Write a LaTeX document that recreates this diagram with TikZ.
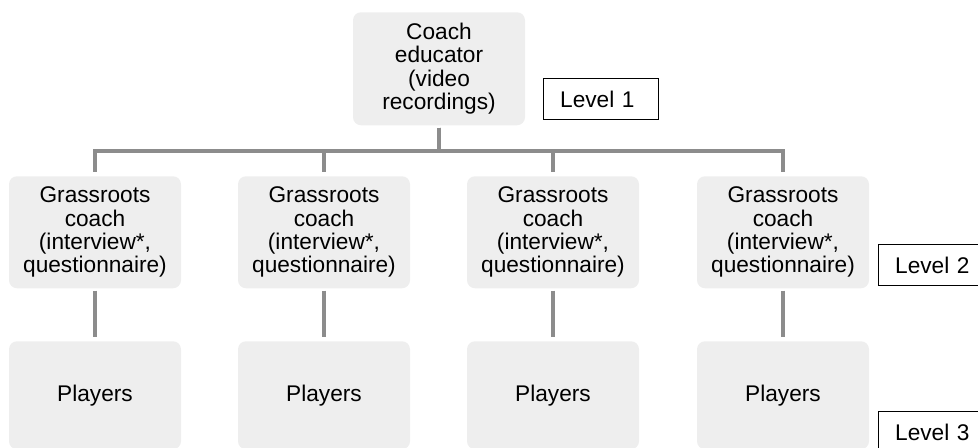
\documentclass[tikz,border=0pt]{standalone}
\usepackage{fontspec}
\setmainfont{Liberation Sans}
\definecolor{boxgray}{RGB}{238,238,238}
\definecolor{linegray}{RGB}{140,140,140}
\begin{document}
\begin{tikzpicture}[x=0.75pt,y=-0.75pt,
        box/.style={fill=boxgray,rounded corners=6pt,anchor=north,text width=121pt,inner sep=4pt,align=center,font=\fontsize{17}{17.5}\selectfont},
        level/.style={draw,fill=white,line width=0.75pt,anchor=north west,text width=61pt,inner xsep=12.5pt,minimum height=31pt,align=left,font=\fontsize{17}{17.5}\selectfont},
        link/.style={draw=linegray,line width=3pt,shorten <=1.5pt,shorten >=3pt}]
        \clip (0,0) rectangle (978,448);
        \coordinate (bus) at (0,151);
        \node[box,minimum height=84.75pt] (edu) at (439,12) {Coach\\educator\\(video\\recordings)};
        \node[level] (lev1) at (543,78) {Level 1};
        \node[level] (lev2) at (878,244) {Level 2};
        \node[level] (lev3) at (878,411) {Level 3};
        \foreach \i/\x in {1/95,2/324,3/553,4/783} {
            \node[box,minimum height=84pt] (coach\i) at (\x,176) {Grassroots\\coach\\(interview*,\\questionnaire)};
            \node[box,minimum height=81pt] (players\i) at (\x,341) {Players};
            \draw[link] (edu.south) -- (edu.south |- bus) -| (coach\i.north);
            \draw[link] (coach\i) -- (players\i);
        }
    \end{tikzpicture}
\end{document}
